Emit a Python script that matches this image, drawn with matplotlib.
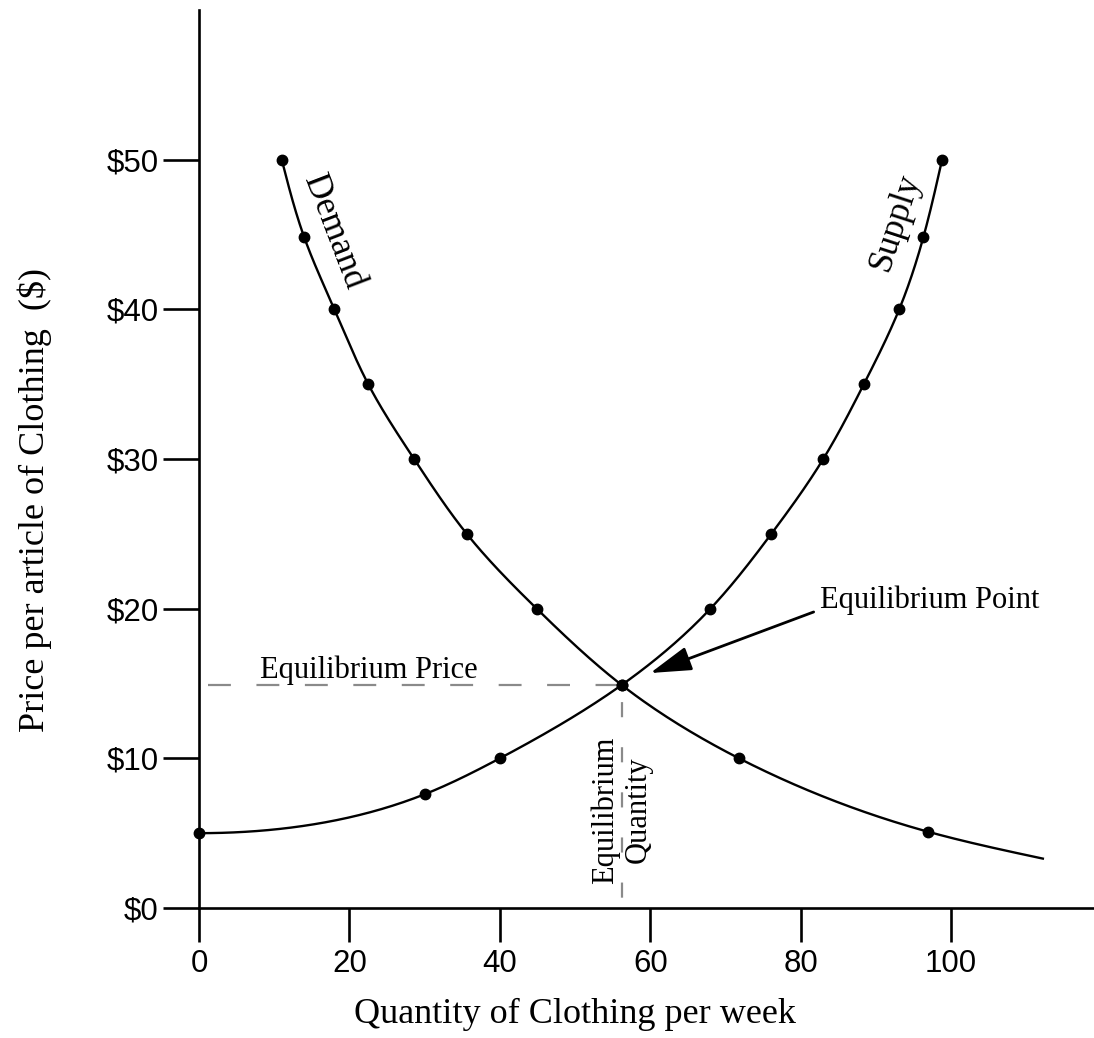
import numpy as np
import matplotlib
matplotlib.use("Agg")
import matplotlib.pyplot as plt

# values
demand_q = [11, 14, 18, 22.5, 28.6, 35.6, 44.9, 56.2, 71.8, 96.9]
demand_p = [50, 44.8, 40, 35, 30, 25, 20, 14.9, 10, 5.1]
demand_end = (112.2, 3.3)  # where the drawn demand curve stops (no dot)

supply_q = [0, 30, 40, 56.2, 68, 76.1, 83, 88.4, 93.1, 96.3, 98.8]
supply_p = [5, 7.6, 10, 14.9, 20, 25, 30, 35, 40, 44.8, 50]

eq_q, eq_p = 56.2, 14.9

x_ticks = [0, 20, 40, 60, 80, 100]
y_ticks = [0, 10, 20, 30, 40, 50]
y_tick_labels = ["$0", "$10", "$20", "$30", "$40", "$50"]

SERIF = "Liberation Serif"
SANS = "Liberation Sans"


def _spline_1d(t, y, d0=None):
    # cubic spline second derivatives, natural end or clamped start slope d0
    n = len(t)
    h = np.diff(t)
    A = np.zeros((n, n))
    b = np.zeros(n)
    if d0 is None:
        A[0, 0] = 1.0
    else:
        A[0, 0], A[0, 1] = 2 * h[0], h[0]
        b[0] = 6 * ((y[1] - y[0]) / h[0] - d0)
    for i in range(1, n - 1):
        A[i, i - 1], A[i, i], A[i, i + 1] = h[i - 1], 2 * (h[i - 1] + h[i]), h[i]
        b[i] = 6 * ((y[i + 1] - y[i]) / h[i] - (y[i] - y[i - 1]) / h[i - 1])
    A[-1, -1] = 1.0
    return np.linalg.solve(A, b)


def smooth_curve(pts, flat_start=False, n=40):
    """Parametric cubic spline through pts (used only to draw the line)."""
    pts = np.asarray(pts, dtype=float)
    scaled = pts * np.array([1.0, 2.0])  # y units ~2x taller than x on screen
    t = np.concatenate([[0], np.cumsum(np.hypot(*np.diff(scaled, axis=0).T))])
    out = []
    for k in range(2):
        y = pts[:, k]
        if flat_start:
            d0 = 1.0 if k == 0 else 0.0
        else:
            d0 = None
        M = _spline_1d(t, y, d0)
        seg = []
        for i in range(len(t) - 1):
            h = t[i + 1] - t[i]
            s = np.linspace(t[i], t[i + 1], n, endpoint=(i == len(t) - 2))
            v = (M[i] * (t[i + 1] - s) ** 3 / (6 * h) + M[i + 1] * (s - t[i]) ** 3 / (6 * h)
                 + (y[i] / h - M[i] * h / 6) * (t[i + 1] - s)
                 + (y[i + 1] / h - M[i + 1] * h / 6) * (s - t[i]))
            seg.append(v)
        out.append(np.concatenate(seg))
    return out[0], out[1]


fig = plt.figure(figsize=(10.94, 10.38), dpi=100)
W, H = 1094, 1038
ax = fig.add_axes([199 / W, (H - 908) / H, (W - 199) / W, (908 - 10) / H])
ax.set_xlim(0, 119)
ax.set_ylim(0, 60)

for side in ("top", "right"):
    ax.spines[side].set_visible(False)
for side in ("left", "bottom"):
    ax.spines[side].set_linewidth(1.9)

ax.set_xticks(x_ticks)
ax.set_xticklabels([str(v) for v in x_ticks], fontfamily=SANS, fontsize=22.5)
ax.set_yticks(y_ticks)
ax.set_yticklabels(y_tick_labels, fontfamily=SANS, fontsize=22.5)
ax.tick_params(axis="x", direction="out", length=24.5, width=1.9, pad=5)
ax.tick_params(axis="y", direction="out", length=26, width=1.9, pad=3)

ax.set_xlabel("Quantity of Clothing per week", fontfamily=SERIF, fontsize=26)
ax.set_ylabel("Price per article of Clothing  ($)", fontfamily=SERIF, fontsize=26)
ax.xaxis.set_label_coords((575 - 199) / 895, (908 - 998) / 898)
ax.yaxis.set_label_coords((52 - 199) / 895, (908 - 500) / 898)

# curves
dx, dy = smooth_curve(list(zip(demand_q, demand_p)) + [demand_end])
ax.plot(dx, dy, color="black", lw=1.7, clip_on=False)
sx, sy = smooth_curve(list(zip(supply_q, supply_p)), flat_start=True)
ax.plot(sx, sy, color="black", lw=1.7, clip_on=False)

ax.plot(demand_q, demand_p, "o", color="black", ms=7.5, clip_on=False, zorder=5)
ax.plot(supply_q, supply_p, "o", color="black", ms=7.5, clip_on=False, zorder=5)

# equilibrium guide lines
ax.plot([1.2, eq_q], [eq_p, eq_p], color="#8a8a8a", lw=1.6,
        linestyle=(0, (10.3, 11.5)))
ax.plot([eq_q, eq_q], [eq_p, 0], color="#8a8a8a", lw=1.6,
        linestyle=(12.6, (6.8, 13.5)))

ax.text(22.6, 15.35, "Equilibrium Price", fontfamily=SERIF, fontsize=22,
        ha="center", va="baseline")
ax.text(eq_q, 6.55, "Equilibrium\nQuantity", fontfamily=SERIF, fontsize=22,
        rotation=90, ha="center", va="center", multialignment="center")

ax.annotate("Equilibrium Point", xy=(60.0, 15.7), xytext=(82.6, 20.05),
            fontfamily=SERIF, fontsize=22, ha="left", va="baseline",
            arrowprops=dict(arrowstyle="-|>,head_length=1.15,head_width=0.34",
                            color="black", lw=2, shrinkA=0, shrinkB=0,
                            relpos=(-0.03, 0.1)))

ax.text(17.9, 45.2, "Demand", fontfamily=SERIF, fontsize=25.5, rotation=-69,
        rotation_mode="anchor", ha="center", va="center")
ax.text(92.6, 45.8, "Supply", fontfamily=SERIF, fontsize=25.5, rotation=72,
        rotation_mode="anchor", ha="center", va="center")

fig.savefig("out.png", dpi=100)
